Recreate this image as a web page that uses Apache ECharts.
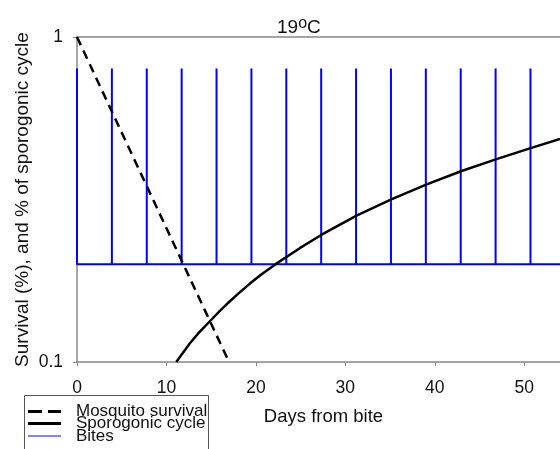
<!DOCTYPE html>
<html>
<head>
<meta charset="utf-8">
<script src="https://cdn.jsdelivr.net/npm/echarts@6/dist/echarts.min.js"></script>
<style>
  html, body { margin: 0; padding: 0; background: #fff; }
  #chart { width: 560px; height: 449px; }
</style>
</head>
<body>
<div id="chart"></div>
<script>
// survival (straight on the log axis)
const survivalDays = [0, 17];
const survivalValues = [1, 0.1];

// sporogonic cycle fraction
const sporoDays = [11.1, 11.6, 12.1, 12.6, 13.5, 14.8, 16, 17, 18, 19.3, 20.6, 22.2, 24.9, 27.3, 31.25, 35.2, 39.1, 43, 46.9, 50.8, 54];
const sporoValues = [0.1, 0.1045, 0.109, 0.114, 0.122, 0.133, 0.144, 0.153, 0.162, 0.174, 0.186, 0.2, 0.224, 0.246, 0.282, 0.317, 0.352, 0.387, 0.421, 0.456, 0.486];

// bites: day of each spike, baseline and spike top
const biteDays = [0, 3.9, 7.8, 11.7, 15.6, 19.5, 23.4, 27.3, 31.2, 35.1, 39.0, 42.9, 46.8, 50.7];
const biteBase = 0.2;
const biteTop = 0.8;
const xEnd = 54;

const legendNames = ["Mosquito survival", "Sporogonic cycle", "Bites"];

const survivalData = survivalDays.map((d, i) => [d, survivalValues[i]]);
const sporoData = sporoDays.map((d, i) => [d, sporoValues[i]]);
const biteData = [];
biteDays.forEach(d => {
  biteData.push([d, biteBase], [d, biteTop], [d, biteBase]);
});
biteData.push([xEnd, biteBase]);

// hand drawn legend box (sits partly below the window, like the original)
const legendStyles = [
  { stroke: "#000", lineWidth: 3, lineDash: [14, 6] },
  { stroke: "#000", lineWidth: 3 },
  { stroke: "#5a5aff", lineWidth: 1.5 }
];
const legendRows = [411.5, 423.5, 436];
const legendGraphic = [
  {
    type: "rect",
    shape: { x: 24.5, y: 395.5, width: 184, height: 70 },
    style: { fill: "#fff", stroke: "#555", lineWidth: 1 }
  }
];
legendNames.forEach((name, i) => {
  legendGraphic.push({
    type: "line",
    shape: { x1: 28, y1: legendRows[i], x2: 61, y2: legendRows[i] },
    style: legendStyles[i]
  });
  legendGraphic.push({
    type: "text",
    x: 76,
    y: legendRows[i],
    style: {
      text: name,
      fontSize: 17,
      fontFamily: "Liberation Sans",
      fill: "#111",
      verticalAlign: "middle"
    }
  });
});

const myChart = echarts.init(document.getElementById("chart"));
myChart.setOption({
  animation: false,
  textStyle: { fontFamily: "Liberation Sans, Arial, sans-serif", color: "#222" },
  title: {
    text: "{n|19}{s|o}{n|C}",
    left: 272,
    top: 11,
    textStyle: {
      fontWeight: "normal",
      rich: {
        n: { fontSize: 19, lineHeight: 21, verticalAlign: "bottom", color: "#111", fontFamily: "Liberation Sans" },
        s: { fontSize: 16, lineHeight: 16, verticalAlign: "top", color: "#111", fontFamily: "Liberation Sans" }
      }
    }
  },
  graphic: legendGraphic,
  grid: { left: 77, right: 0, top: 37, bottom: 87 },
  xAxis: [
    {
      type: "value",
      min: 0,
      max: xEnd,
      interval: 10,
      name: "Days from bite",
      nameLocation: "middle",
      nameGap: 45,
      nameTextStyle: { fontSize: 18.5, color: "#111", padding: [0, 0, 0, 10] },
      axisLine: { onZero: false, lineStyle: { color: "#888", width: 1.5 } },
      axisTick: { show: true, length: 4, lineStyle: { color: "#888" } },
      axisLabel: { fontSize: 17.5, color: "#111", margin: 17, showMaxLabel: false },
      splitLine: { show: false }
    },
    {
      type: "value",
      position: "top",
      min: 0,
      max: xEnd,
      axisLine: { onZero: false, lineStyle: { color: "#888", width: 1.5 } },
      axisTick: { show: false },
      axisLabel: { show: false },
      splitLine: { show: false }
    }
  ],
  yAxis: {
    type: "log",
    logBase: 10,
    min: 0.1,
    max: 1,
    name: "Survival (%), and % of sporogonic cycle",
    nameLocation: "middle",
    nameGap: 45,
    nameMoveOverlap: false,
    nameTextStyle: { fontSize: 19, color: "#111" },
    axisLine: { show: true, lineStyle: { color: "#888", width: 1.5 } },
    axisTick: { show: true, length: 4, lineStyle: { color: "#888" } },
    axisLabel: { fontSize: 17.5, color: "#111", margin: 14 },
    splitLine: { show: false }
  },
  series: [
    {
      name: "Bites",
      type: "line",
      data: biteData,
      showSymbol: false,
      symbol: "none",
      lineStyle: { color: "#0000ff", width: 2 },
      z: 2
    },
    {
      name: "Mosquito survival",
      type: "line",
      data: survivalData,
      showSymbol: false,
      symbol: "none",
      lineStyle: { color: "#000", width: 2.5, type: [9, 6] },
      z: 3
    },
    {
      name: "Sporogonic cycle",
      type: "line",
      data: sporoData,
      showSymbol: false,
      symbol: "none",
      lineStyle: { color: "#000", width: 2.5, join: "round" },
      z: 3
    }
  ]
});
window.addEventListener("resize", () => {
  myChart.resize();
});
</script>
</body>
</html>
